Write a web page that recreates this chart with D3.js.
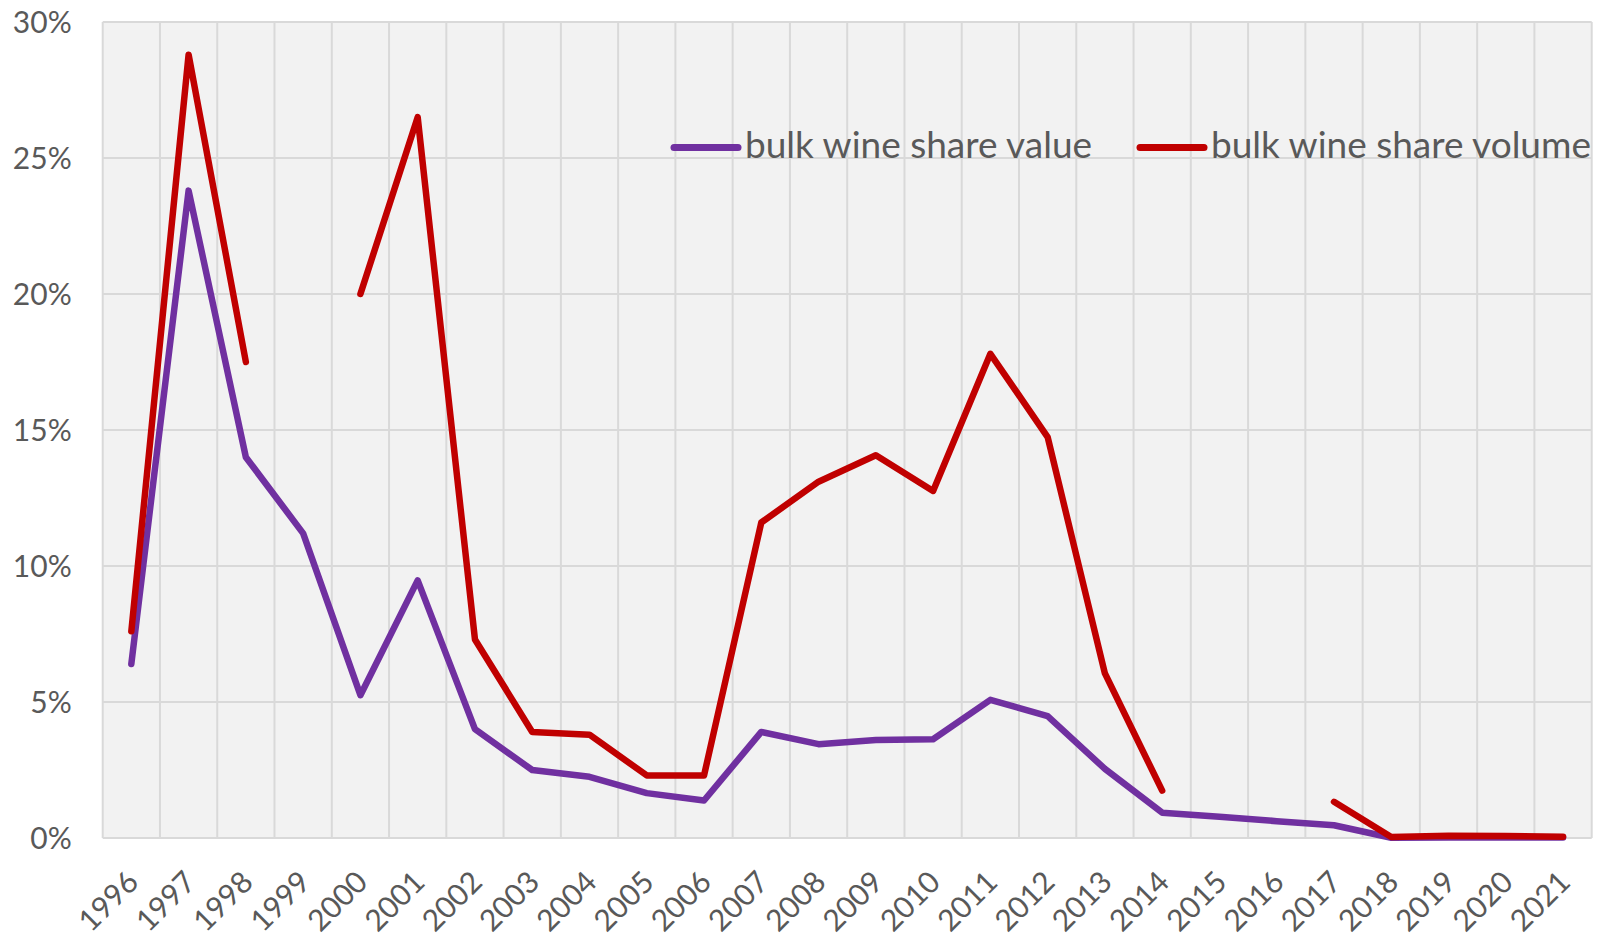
<!DOCTYPE html>
<html>
<head>
<meta charset="utf-8">
<script src="https://cdn.jsdelivr.net/npm/d3@7/dist/d3.min.js"></script>
<style>
  body { margin: 0; background: #fff; }
  text { font-family: Lato, "Open Sans", sans-serif; fill: #595959; }
</style>
</head>
<body>
<svg id="chart" width="1597" height="933"></svg>
<script>
// chart data
var years = ["1996","1997","1998","1999","2000","2001","2002","2003","2004","2005","2006","2007","2008",
             "2009","2010","2011","2012","2013","2014","2015","2016","2017","2018","2019","2020","2021"];

var share_value = [6.4, 23.8, 14.0, 11.2, 5.25, 9.47, 4.0, 2.5, 2.25, 1.65, 1.38, 3.9, 3.45,
                   3.6, 3.63, 5.08, 4.48, 2.54, 0.93, 0.78, 0.62, 0.47, 0.01, 0.02, 0.02, 0.02];

var share_volume = [7.6, 28.8, 17.5, null, 20.0, 26.5, 7.3, 3.9, 3.8, 2.3, 2.3, 11.6, 13.1,
                    14.07, 12.76, 17.8, 14.74, 6.05, 1.74, null, null, 1.33, 0.04, 0.08, 0.07, 0.05];

var y_ticks = [0, 5, 10, 15, 20, 25, 30];

var series_names = ["bulk wine share value", "bulk wine share volume"];
var series_colors = ["#7030A0", "#C00000"];


var svg = d3.select("#chart");

var plot_left = 102.7, plot_right = 1591.7, plot_top = 22, plot_bottom = 838;

var xScale = d3.scaleBand().domain(years).range([plot_left, plot_right]);
var yScale = d3.scaleLinear().domain([0, 30]).range([plot_bottom, plot_top]);

// -------*****--------^^^^-------*****---------------*****--------^^^^-------*****--------
//               plot area + grid
// -------*****--------^^^^-------*****---------------*****--------^^^^-------*****--------
svg.append("rect")
    .attr("x", plot_left)
    .attr("y", plot_top)
    .attr("width", plot_right - plot_left)
    .attr("height", plot_bottom - plot_top)
    .attr("fill", "#F2F2F2");

var grid_g = svg.append("g").attr("id", "grid");

// vertical lines sit on the category boundaries
var x_bounds = years.map(function(d) { return xScale(d); });
x_bounds.push(plot_right);

grid_g.selectAll("line.vgrid")
    .data(x_bounds)
  .enter().append("line")
    .attr("class", "vgrid")
    .attr("x1", function(d) { return d; })
    .attr("x2", function(d) { return d; })
    .attr("y1", plot_top)
    .attr("y2", plot_bottom)
    .attr("stroke", "#D9D9D9")
    .attr("stroke-width", 2);

grid_g.selectAll("line.hgrid")
    .data(y_ticks)
  .enter().append("line")
    .attr("class", "hgrid")
    .attr("x1", plot_left)
    .attr("x2", plot_right)
    .attr("y1", function(d) { return yScale(d); })
    .attr("y2", function(d) { return yScale(d); })
    .attr("stroke", "#D9D9D9")
    .attr("stroke-width", 2);

// -------*****--------^^^^-------*****---------------*****--------^^^^-------*****--------
//               axes
// -------*****--------^^^^-------*****---------------*****--------^^^^-------*****--------
var y_axis = svg.append("g")
    .attr("transform", "translate(" + (plot_left - 31) + ",0)")
    .call(d3.axisLeft(yScale).tickValues(y_ticks).tickSize(0).tickFormat(function(d) { return d + "%"; }));
y_axis.select(".domain").remove();
y_axis.selectAll("text")
    .attr("x", 0)
    .attr("dy", "0.34em")
    .style("font-size", "30px")
    .style("fill", "#595959");

var x_axis = svg.append("g")
    .attr("transform", "translate(0," + plot_bottom + ")")
    .call(d3.axisBottom(xScale).tickSize(0));
x_axis.select(".domain").remove();
x_axis.selectAll("text")
    .attr("y", 0)
    .attr("dy", 0)
    .attr("text-anchor", "end")
    .attr("transform", "translate(9,46) rotate(-45)")
    .style("font-size", "30px")
    .style("fill", "#595959");

// -------*****--------^^^^-------*****---------------*****--------^^^^-------*****--------
//               lines
// -------*****--------^^^^-------*****---------------*****--------^^^^-------*****--------
var line = d3.line()
    .defined(function(d) { return d != null; })
    .x(function(d, i) { return xScale(years[i]) + xScale.bandwidth() / 2; })
    .y(function(d) { return yScale(d); });

[share_value, share_volume].forEach(function(series, k) {
  svg.append("path")
      .datum(series)
      .attr("fill", "none")
      .attr("stroke", series_colors[k])
      .attr("stroke-width", 6.5)
      .attr("stroke-linecap", "round")
      .attr("stroke-linejoin", "round")
      .attr("d", line);
});

// -------*****--------^^^^-------*****---------------*****--------^^^^-------*****--------
//               legend
// -------*****--------^^^^-------*****---------------*****--------^^^^-------*****--------
var legend_x = [674, 1140];
var legend_g = svg.append("g").attr("id", "legend");

series_names.forEach(function(name, k) {
  legend_g.append("line")
      .attr("x1", legend_x[k])
      .attr("x2", legend_x[k] + 64)
      .attr("y1", 147.5)
      .attr("y2", 147.5)
      .attr("stroke", series_colors[k])
      .attr("stroke-width", 7)
      .attr("stroke-linecap", "round");
  legend_g.append("text")
      .attr("x", legend_x[k] + 71)
      .attr("y", 158)
      .style("font-size", "37px")
      .text(name);
});
</script>
</body>
</html>
